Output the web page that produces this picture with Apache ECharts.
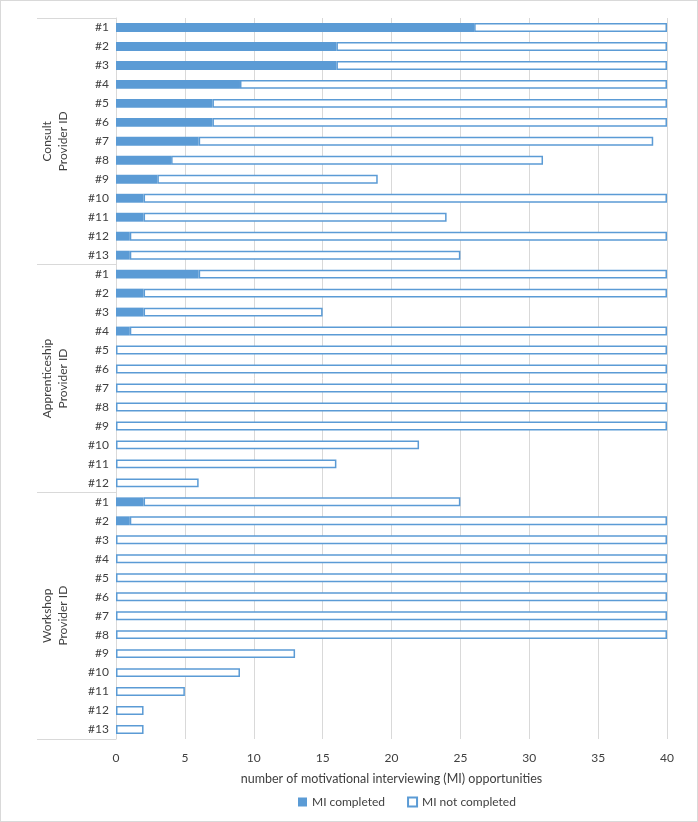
<!DOCTYPE html>
<html>
<head>
<meta charset="utf-8">
<script src="https://cdn.jsdelivr.net/npm/echarts@6/dist/echarts.min.js"></script>
<style>
html,body{margin:0;padding:0;background:#fff;}
#chart{width:698px;height:822px;box-sizing:border-box;border:1px solid #d9d9d9;}
</style>
</head>
<body>
<div id="chart"></div>
<script>
// Group names and provider IDs
const groupNames = ['Consult\nProvider ID', 'Apprenticeship\nProvider ID', 'Workshop\nProvider ID'];
const consultIds = ['#1','#2','#3','#4','#5','#6','#7','#8','#9','#10','#11','#12','#13'];
const apprenticeshipIds = ['#1','#2','#3','#4','#5','#6','#7','#8','#9','#10','#11','#12'];
const workshopIds = ['#1','#2','#3','#4','#5','#6','#7','#8','#9','#10','#11','#12','#13'];

// MI completed
const consultCompleted = [26,16,16,9,7,7,6,4,3,2,2,1,1];
const apprenticeshipCompleted = [6,2,2,1,0,0,0,0,0,0,0,0];
const workshopCompleted = [2,1,0,0,0,0,0,0,0,0,0,0,0];

// MI not completed
const consultNotCompleted = [14,24,24,31,33,33,33,27,16,38,22,39,24];
const apprenticeshipNotCompleted = [34,38,13,39,40,40,40,40,40,22,16,6];
const workshopNotCompleted = [23,39,40,40,40,40,40,40,13,9,5,2,2];

// x-axis ticks
const xMin = 0, xMax = 40, xStep = 5;

const categories = consultIds.concat(apprenticeshipIds, workshopIds);
const completed = consultCompleted.concat(apprenticeshipCompleted, workshopCompleted);
const notCompleted = consultNotCompleted.concat(apprenticeshipNotCompleted, workshopNotCompleted);
const groupSizes = [consultIds.length, apprenticeshipIds.length, workshopIds.length];
const groupStarts = [0, groupSizes[0], groupSizes[0] + groupSizes[1]];

const FONT = 'Lato, "Liberation Sans", sans-serif';
const BLUE = '#5B9BD5';

const chart = echarts.init(document.getElementById('chart'), null, {renderer: 'canvas'});
chart.setOption({
  animation: false,
  textStyle: {fontFamily: FONT},
  grid: {left: 115, right: 30, top: 17, bottom: 82, containLabel: false},
  xAxis: {
    type: 'value', min: xMin, max: xMax, interval: xStep,
    axisLine: {show: false}, axisTick: {show: false},
    splitLine: {show: true, lineStyle: {color: '#d9d9d9', width: 1}},
    axisLabel: {color: '#404040', fontSize: 12, margin: 13, fontFamily: FONT},
    name: 'number of motivational interviewing (MI) opportunities',
    nameLocation: 'middle', nameGap: 33,
    nameTextStyle: {color: '#404040', fontSize: 12.5, fontFamily: FONT}
  },
  yAxis: {
    type: 'category', inverse: true, data: categories,
    axisLine: {show: true, lineStyle: {color: '#d9d9d9', width: 1}},
    axisTick: {
      show: true, length: 79,
      interval: function (idx) { return groupStarts.indexOf(idx) >= 0; },
      lineStyle: {color: '#d9d9d9', width: 1}
    },
    axisLabel: {color: '#404040', fontSize: 12, margin: 7, interval: 0, fontFamily: FONT},
    splitLine: {show: false}
  },
  legend: {
    top: 790, left: 292, icon: 'rect', itemWidth: 9, itemHeight: 9, itemGap: 22,
    textStyle: {color: '#404040', fontSize: 12, fontFamily: FONT},
    data: ['MI completed', 'MI not completed']
  },
  series: [
    {
      name: 'MI completed', type: 'bar', stack: 'total', barWidth: '47%',
      itemStyle: {color: BLUE},
      data: completed
    },
    {
      name: 'MI not completed', type: 'bar', stack: 'total', barWidth: '47%',
      itemStyle: {color: '#ffffff', borderColor: BLUE, borderWidth: 1.5},
      data: notCompleted
    }
  ]
});

// group labels placed at the centre of each group's band range
const labels = groupNames.map(function (name, g) {
  const a = chart.convertToPixel({yAxisIndex: 0}, groupStarts[g]);
  const b = chart.convertToPixel({yAxisIndex: 0}, groupStarts[g] + groupSizes[g] - 1);
  return {
    type: 'text', x: 54, y: (a + b) / 2, rotation: Math.PI / 2,
    style: {
      text: name, fill: '#404040', font: '12px ' + FONT,
      align: 'center', verticalAlign: 'middle', lineHeight: 16
    }
  };
});
chart.setOption({graphic: labels});
</script>
</body>
</html>
